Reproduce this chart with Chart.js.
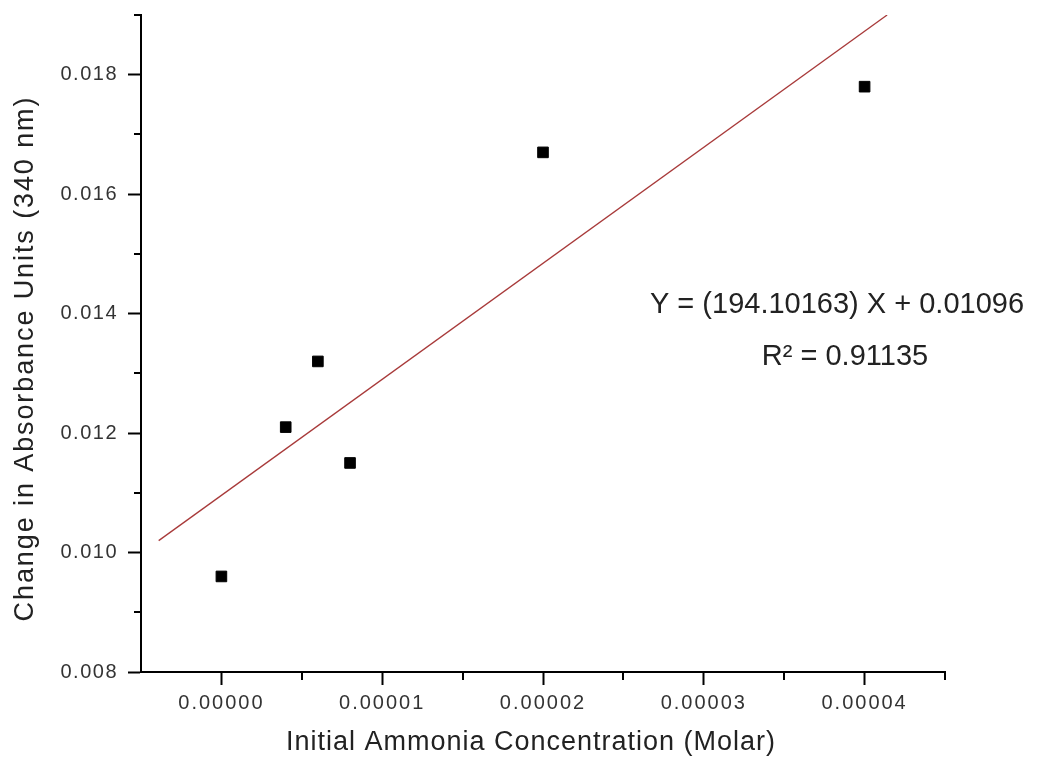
<!DOCTYPE html>
<html><head><meta charset="utf-8">
<script src="https://cdn.jsdelivr.net/npm/chart.js@4.4.0/dist/chart.umd.min.js"></script>
<style>html,body{margin:0;padding:0;background:#fff}</style>
</head><body>
<canvas id="c" width="1041" height="766"></canvas>
<script>
const concentrations = [0, 0.000004, 0.000006, 0.000008, 0.00002, 0.00004];
const absorbance = [0.0096, 0.0121, 0.0132, 0.0115, 0.0167, 0.0178];
const fitX = [-0.0000039, 0.0000414];
const fitY = [0.01020, 0.01900];
const xTicks = [0, 0.00001, 0.00002, 0.00003, 0.00004];
const yTicks = [0.008, 0.010, 0.012, 0.014, 0.016, 0.018];
const xMinorTicks = [0.000005, 0.000015, 0.000025, 0.000035, 0.000045];
const yMinorTicks = [0.009, 0.011, 0.013, 0.015, 0.017, 0.019];
const equationLines = ['Y = (194.10163) X + 0.01096', 'R\u00B2 = 0.91135'];
const xTitle = 'Initial Ammonia Concentration (Molar)';
const yTitle = 'Change in Absorbance Units (340 nm)';

const FAMILY = '"Liberation Sans", Arial, sans-serif';

const styleScalesPlugin = {
  id: 'styleScales',
  beforeDraw(chart) {
    const cfg = {
      x: {labels: '2px', title: '1px', dx: -12, dy: 0},
      y: {labels: '1.5px', title: '1.9px', dx: 0, dy: 15}
    };
    for (const id of ['x', 'y']) {
      const s = chart.scales[id];
      if (!s || s._styled) continue;
      s._styled = true;
      const dl = s.drawLabels.bind(s), dt = s.drawTitle.bind(s);
      const c = cfg[id];
      s.drawLabels = function (a) {
        const ctx = this.ctx; ctx.save(); ctx.letterSpacing = c.labels; dl(a); ctx.restore();
      };
      s.drawTitle = function () {
        const ctx = this.ctx; ctx.save(); ctx.translate(c.dx, c.dy); ctx.letterSpacing = c.title; dt(); ctx.restore();
      };
    }
  },
  afterDraw(chart) {
    const ctx = chart.ctx, xs = chart.scales.x, ys = chart.scales.y;
    ctx.save();
    ctx.strokeStyle = '#000';
    ctx.lineWidth = 2;
    ctx.beginPath();
    const yAxis = ys.bottom;
    xMinorTicks.forEach(v => {
      const px = Math.round(xs.getPixelForValue(v));
      ctx.moveTo(px, yAxis); ctx.lineTo(px, yAxis + 8);
    });
    const xAxis = xs.left;
    yMinorTicks.forEach(v => {
      const py = Math.round(ys.getPixelForValue(v));
      ctx.moveTo(xAxis, py); ctx.lineTo(xAxis - 7, py);
    });
    ctx.stroke();
    ctx.fillStyle = '#222';
    ctx.font = '29px ' + FAMILY;
    ctx.textAlign = 'center';
    ctx.textBaseline = 'alphabetic';
    ctx.fillText(equationLines[0], 837, 313);
    ctx.fillText(equationLines[1], 845, 365);
    ctx.restore();
  }
};

new Chart(document.getElementById('c'), {
  type: 'scatter',
  data: {
    datasets: [
      {
        label: 'Data',
        data: concentrations.map((x, i) => ({x, y: absorbance[i]})),
        pointStyle: 'rect',
        pointRadius: 7.5,
        pointBackgroundColor: '#000',
        pointBorderColor: '#000',
        pointBorderWidth: 1,
        order: 1
      },
      {
        label: 'Fit',
        type: 'line',
        data: fitX.map((x, i) => ({x, y: fitY[i]})),
        borderColor: '#a83a3a',
        borderWidth: 1.3,
        pointRadius: 0,
        fill: false,
        order: 2
      }
    ]
  },
  options: {
    responsive: false,
    animation: false,
    devicePixelRatio: 1,
    layout: {padding: {top: 15, right: 96, left: 0, bottom: 0}},
    plugins: {legend: {display: false}, tooltip: {enabled: false}},
    scales: {
      x: {
        type: 'linear',
        min: -0.000005,
        max: 0.000045,
        afterBuildTicks: s => { s.ticks = xTicks.map(v => ({value: v})); },
        afterFit: s => { s.height = 94; s.paddingLeft = 0; s.paddingRight = 0; },
        grid: {display: true, drawOnChartArea: false, drawTicks: true, tickLength: 13, tickWidth: 2, tickColor: '#000'},
        border: {display: true, color: '#000', width: 2},
        ticks: {font: {family: FAMILY, size: 20}, color: '#333', padding: 6, maxRotation: 0, autoSkip: false,
                callback: v => Number(v).toFixed(5)},
        title: {display: true, text: xTitle, font: {family: FAMILY, size: 27}, color: '#222', padding: {top: 0, bottom: 7}}
      },
      y: {
        type: 'linear',
        min: 0.008,
        max: 0.019,
        afterBuildTicks: s => { s.ticks = yTicks.map(v => ({value: v})); },
        afterFit: s => { s.width = 141; s.paddingTop = 0; s.paddingBottom = 0; },
        grid: {display: true, drawOnChartArea: false, drawTicks: true, tickLength: 13, tickWidth: 2, tickColor: '#000'},
        border: {display: true, color: '#000', width: 2},
        ticks: {font: {family: FAMILY, size: 20}, color: '#333', padding: 10, autoSkip: false,
                callback: v => Number(v).toFixed(3)},
        title: {display: true, text: yTitle, font: {family: FAMILY, size: 27}, color: '#222', padding: {top: 9, bottom: 0}}
      }
    }
  },
  plugins: [styleScalesPlugin]
});
</script>
</body></html>
